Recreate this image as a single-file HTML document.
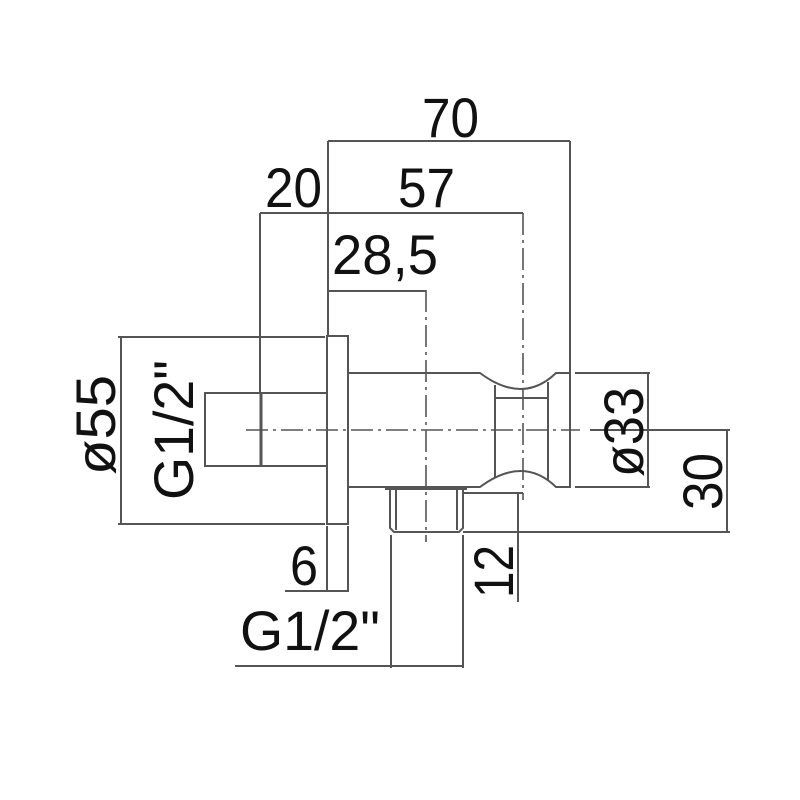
<!DOCTYPE html>
<html><head><meta charset="utf-8"><style>html,body{margin:0;padding:0;background:#fff}svg{display:block}</style></head>
<body>
<svg width="800" height="800" viewBox="0 0 800 800" xmlns="http://www.w3.org/2000/svg">
<rect width="800" height="800" fill="#fff"/>
<g stroke="#555" stroke-width="2" fill="none">
<!-- flange -->
<rect x="327" y="336" width="21" height="188"/>
<!-- left pipe -->
<path d="M327 393 H205 V466 H327"/>
<line x1="261" y1="393" x2="261" y2="466" stroke-width="3"/>
<!-- body -->
<path d="M348 373 H480 Q523 405 556 373 H570 V487 H556 Q523 455 480 487 H348"/>
<line x1="495" y1="385" x2="495" y2="477"/>
<line x1="548" y1="382" x2="548" y2="480"/>
<line x1="495" y1="398" x2="548" y2="398"/>
<!-- outlet -->
<path d="M390 487 V528 L394 532 H459 L463 528 V487"/>
<line x1="385" y1="489" x2="467" y2="489"/>
<line x1="396" y1="490" x2="396" y2="530"/>
<line x1="457" y1="490" x2="457" y2="530"/>
<!-- center lines -->
<g stroke-dasharray="22,5,3,5" stroke-width="1.6">
<line x1="246" y1="430" x2="580" y2="430"/>
<line x1="426" y1="290" x2="426" y2="542"/>
<line x1="523" y1="213" x2="523" y2="500"/>
</g>
<!-- ø55 -->
<path d="M118 337 H325 M118 524 H325 M121 337 V524"/>
<!-- 70 -->
<path d="M328 141 V336 M570 141 V372 M328 141 H570"/>
<!-- 57 / 20 -->
<path d="M260 213 H523 M260 213 V392"/>
<!-- 28,5 -->
<path d="M328 291 H426"/>
<!-- ø33 -->
<path d="M575 373 H650 M575 487 H650 M648 373 V487"/>
<!-- 30 -->
<path d="M590 430 H730 M727 430 V532"/>
<!-- 12 -->
<path d="M463 493 H523 M463 532 H730 M518 493 V602"/>
<!-- 6 -->
<path d="M327 526 V592 M348 526 V592 M285 591 H348"/>
<!-- G1/2 bottom -->
<path d="M391 535 V668 M463 535 V668 M235 666 H463"/>
</g>
<g font-family="'Liberation Sans', sans-serif" font-size="56" fill="#111">
<text x="422" y="137" textLength="57" lengthAdjust="spacingAndGlyphs">70</text>
<text x="265" y="207" textLength="57" lengthAdjust="spacingAndGlyphs">20</text>
<text x="398" y="207" textLength="57" lengthAdjust="spacingAndGlyphs">57</text>
<text x="332" y="274" textLength="106" lengthAdjust="spacingAndGlyphs">28,5</text>
<text x="290" y="585" textLength="28" lengthAdjust="spacingAndGlyphs">6</text>
<text x="240" y="650" textLength="140" lengthAdjust="spacingAndGlyphs">G1/2"</text>
<text transform="translate(115,475) rotate(-90)" textLength="100" lengthAdjust="spacingAndGlyphs">ø55</text>
<text transform="translate(193,500) rotate(-90)" textLength="140" lengthAdjust="spacingAndGlyphs">G1/2"</text>
<text transform="translate(643,477) rotate(-90)" textLength="90" lengthAdjust="spacingAndGlyphs">ø33</text>
<text transform="translate(722,510) rotate(-90)" textLength="57" lengthAdjust="spacingAndGlyphs">30</text>
<text transform="translate(513,598) rotate(-90)" textLength="53" lengthAdjust="spacingAndGlyphs">12</text>
</g>
</svg>
</body></html>
